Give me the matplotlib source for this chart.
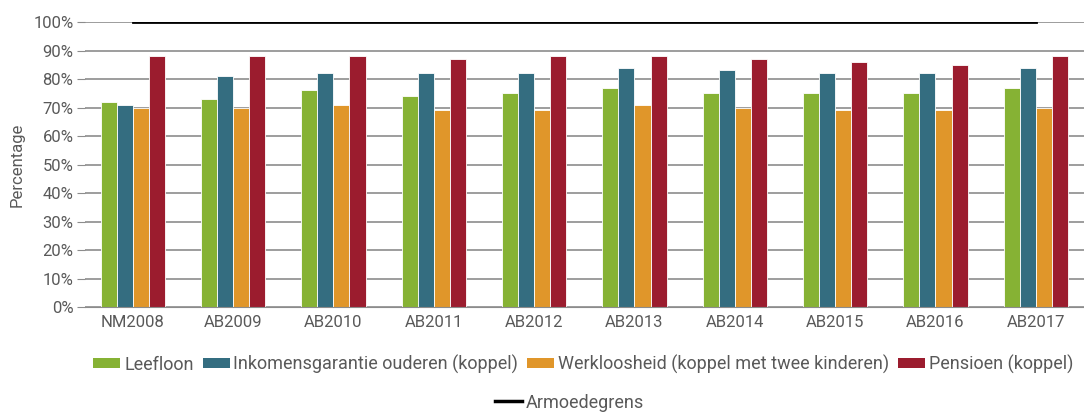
import matplotlib.pyplot as plt
import numpy as np
from matplotlib.patches import Patch
from matplotlib.lines import Line2D

plt.rcParams['font.family'] = ['Roboto', 'DejaVu Sans']

years = ["NM2008", "AB2009", "AB2010", "AB2011", "AB2012",
         "AB2013", "AB2014", "AB2015", "AB2016", "AB2017"]
leefloon = [72, 73, 76, 74, 75, 77, 75, 75, 75, 77]
inkomensgarantie = [71, 81, 82, 82, 82, 84, 83, 82, 82, 84]
werkloosheid = [70, 70, 71, 69, 69, 71, 70, 69, 69, 70]
pensioen = [88, 88, 88, 87, 88, 88, 87, 86, 85, 88]
armoedegrens = [100] * len(years)

series = [
    ("Leefloon", leefloon, "#86b234"),
    ("Inkomensgarantie ouderen (koppel)", inkomensgarantie, "#346d80"),
    ("Werkloosheid (koppel met twee kinderen)", werkloosheid, "#e0962a"),
    ("Pensioen (koppel)", pensioen, "#9b1c2e"),
]

text_col = "#595959"
fig = plt.figure(figsize=(10.84, 4.15), dpi=100)
ax = fig.add_axes([0.078, 0.26, 0.922, 0.687])

x = np.arange(len(years))
w = 0.16
offsets = [-1.5 * w, -0.5 * w, 0.5 * w, 1.5 * w]
for (name, vals, col), off in zip(series, offsets):
    ax.bar(x + off, vals, width=w, color=col, edgecolor="white", linewidth=0.6, zorder=2)

# armoedegrens line
ax.plot(x, armoedegrens, color="black", linewidth=2, zorder=3)

ax.set_ylim(0, 100)
ax.set_xlim(-0.48, len(years) - 0.52)
ax.set_yticks(range(0, 101, 10))
ax.set_yticklabels([f"{v}%" for v in range(0, 101, 10)])
ax.set_xticks(x)
ax.set_xticklabels(years)
ax.yaxis.grid(True, color="#8c8c8c", linewidth=1.2, zorder=0)
ax.set_axisbelow(True)
for s in ax.spines.values():
    s.set_visible(False)
ax.spines["bottom"].set_visible(True)
ax.spines["bottom"].set_color("#8c8c8c")
ax.tick_params(axis="y", length=6, color="#8c8c8c", labelsize=12, labelcolor=text_col, pad=2)
ax.tick_params(axis="x", length=0, labelsize=12, labelcolor=text_col, pad=6)
ax.set_ylabel("Percentage", fontsize=12, color=text_col, labelpad=6)

handles = [Patch(facecolor=col, label=name) for name, _, col in series]
fig.legend(handles=handles, loc="center", bbox_to_anchor=(0.538, 0.122), ncol=4,
           frameon=False, fontsize=13, labelcolor=text_col, handlelength=1.5,
           handleheight=0.45, handletextpad=0.2, columnspacing=0.5)
fig.legend(handles=[Line2D([], [], color="black", linewidth=2.5, label="Armoedegrens")],
           loc="center", bbox_to_anchor=(0.525, 0.03), frameon=False, fontsize=13,
           labelcolor=text_col, handlelength=1.5, handletextpad=0.2)

fig.savefig("out.png", dpi=100)
